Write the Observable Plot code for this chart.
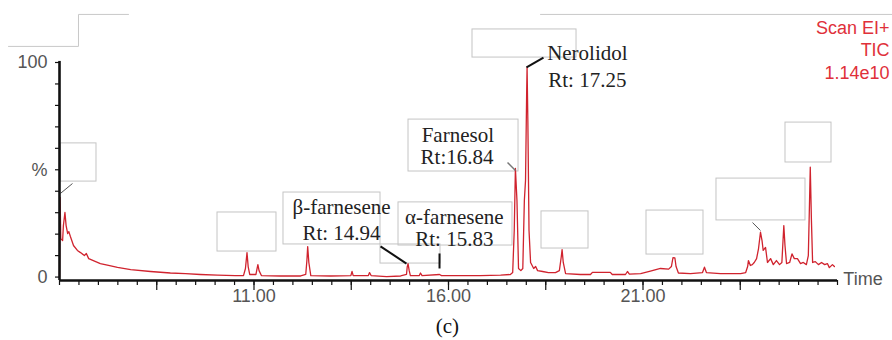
<!DOCTYPE html>
<html><head><meta charset="utf-8">
<script src="https://cdn.jsdelivr.net/npm/d3@7"></script>
<script src="https://cdn.jsdelivr.net/npm/@observablehq/plot@0.6"></script>
<style>body{margin:0;background:#fff} svg{display:block}</style>
</head><body><div id="chart"></div>
<script>
// Retention time (min) and relative abundance (%) of the TIC trace
const times = [
  6.00,6.015,6.033,6.08,6.10,6.14,6.17,6.21,6.24,6.28,
  6.36,6.46,6.54,6.64,6.69,6.75,6.93,7.05,7.26,7.49,
  7.83,8.34,8.85,9.24,9.62,10.06,10.52,10.73,10.78,10.82,
  10.85,10.89,11.05,11.08,11.10,11.13,11.19,11.68,12.20,12.33,
  12.36,12.38,12.41,12.46,12.97,13.49,13.52,13.55,13.94,13.97,
  14.01,14.41,14.77,14.92,14.94,14.96,14.99,15.02,15.25,15.28,
  15.32,15.77,15.82,16.31,16.82,17.34,17.59,17.65,17.69,17.72,
  17.76,17.80,17.86,17.91,17.95,17.98,18.01,18.02,18.04,18.07,
  18.11,18.19,18.24,18.29,18.42,18.57,18.75,18.85,18.90,18.92,
  18.95,19.01,19.39,19.65,19.70,20.16,20.21,20.55,20.60,20.65,
  20.94,21.19,21.45,21.66,21.73,21.77,21.82,21.85,21.91,22.22,
  22.53,22.58,22.63,22.99,23.51,23.64,23.69,23.71,23.76,23.81,
  23.86,23.92,23.97,24.02,24.06,24.09,24.15,24.20,24.28,24.35,
  24.43,24.51,24.57,24.62,24.65,24.69,24.77,24.83,24.89,24.97,
  25.05,25.12,25.20,25.25,25.28,25.30,25.33,25.36,25.43,25.51,
  25.59,25.67,25.74,25.79,25.87,25.92
];
const intensity = [
  0,37.1,17.9,17.0,24.0,30.1,24.0,20.3,21.2,18.9,
  14.7,12.4,11.4,10.0,11.0,8.6,7.2,6.3,5.4,4.5,
  3.5,2.6,1.9,1.6,1.2,0.9,0.7,0.7,4.0,11.4,
  4.9,1.2,1.2,4.0,5.8,3.0,0.7,0.5,0.5,1.2,
  7.7,14.2,6.8,0.7,0.5,0.7,2.6,0.7,0.7,2.1,
  0.7,0.2,0.5,1.2,4.9,6.3,3.0,0.7,0.7,1.9,
  0.7,1.2,0.7,0.7,0.7,0.9,1.2,2.1,21.7,50.6,
  35.7,4.0,3.0,4.0,35.7,45.0,86.9,97.8,73.0,21.7,
  6.8,4.0,4.9,3.0,2.6,2.1,2.1,3.0,9.6,12.8,
  6.8,1.6,1.2,1.2,2.2,2.2,1.2,1.2,2.6,1.4,
  1.6,2.8,4.0,3.7,4.9,9.0,8.9,4.9,1.9,1.6,
  2.1,4.6,2.1,1.6,1.6,2.1,4.9,7.7,5.4,5.8,
  6.8,8.6,13.3,20.9,17.0,12.4,13.8,6.8,8.6,5.8,
  7.7,5.8,6.8,24.0,14.7,6.3,6.8,10.8,8.6,8.6,
  6.3,6.8,5.8,10.0,34.3,51.2,26.3,6.8,7.2,5.8,
  6.8,5.8,6.3,4.4,5.8,4.9
];

// Axis ticks
const xMinorTicks = d3.range(6, 26.001, 0.5);
const xMajorTicks = [8.5, 11, 13.5, 16, 18.5, 21, 23.5];
const xLabelTicks = [11, 16, 21];
const xTickLabels = ["11.00", "16.00", "21.00"];
const yTicks = [0,10,20,30,40,50,60,70,80,90,100];
const yTickLabelValues = [0, 50, 100];
const yTickLabels = ["0", "%", "100"];

// Compound annotations (serif labels)
const labelText = ["β-farnesene","Rt: 14.94","α-farnesene","Rt: 15.83","Farnesol","Rt:16.84","Nerolidol","Rt: 17.25"];
const labelT = [13.25,13.25,16.15,16.15,16.24,16.22,19.57,19.57];
const labelV = [32.4,20.3,27.8,17.5,66.0,55.7,104.2,91.7];

// Leader lines
const leadT1 = [6.026,14.252,15.769,17.517,18.005,23.815];
const leadV1 = [39.0,14.3,11.0,53.4,97.7,25.4];
const leadT2 = [6.334,14.920,15.769,17.722,18.442,24.02];
const leadV2 = [43.6,6.3,4.0,49.7,102.3,21.7];
const leadColor = ["#555","#111","#111","#777","#111","#555"];
const leadWidth = [1,2,2,1.5,2,1];

// Empty label boxes (grey outlines)
const boxT1 = [6.026,10.062,18.391,21.090,22.889,24.663,16.617,14.972,11.758,14.715,14.252];
const boxT2 = [6.951,11.578,19.599,22.555,25.177,25.846,19.291,17.800,14.252,17.645,15.794];
const boxV1 = [44.5,11.9,13.3,10.5,26.4,53.4,102.3,49.2,15.2,14.7,6.3];
const boxV2 = [62.3,30.1,30.6,31.0,45.9,72.0,115.4,73.4,39.4,34.8,15.2];

// Frame lines at the top
const stepT = [4.689,6.488,6.488,7.774];
const stepV = [107.5,107.5,122.4,122.4];
const topT = [18.365,27.41];
const topV = [122.4,122.4];

// Instrument info (red)
const infoText = ["Scan EI+","TIC","1.14e10"];
const infoV = [116.0,105.6,94.9];

const trace = times.map((t, i) => ({t, v: intensity[i]}));

const chart = Plot.plot({
  width: 892,
  height: 340,
  marginLeft: 59,
  marginRight: 55,
  marginTop: 62,
  marginBottom: 60,
  style: {fontFamily: "'Liberation Sans', Arial, sans-serif", background: "#fff", overflow: "visible"},
  x: {domain: [6, 26], label: null},
  y: {domain: [-1.6, 100], label: null},
  marks: [
    Plot.line(stepT, {x: (d) => d, y: (d, i) => stepV[i], stroke: "#c8c8c8", strokeWidth: 1}),
    Plot.line(topT, {x: (d) => d, y: (d, i) => topV[i], stroke: "#c8c8c8", strokeWidth: 1}),
    Plot.rect(boxT1, {x1: (d) => d, x2: (d, i) => boxT2[i], y1: (d, i) => boxV1[i], y2: (d, i) => boxV2[i], fill: "none", stroke: "#c4c4c4", strokeWidth: 1}),
    Plot.line(trace, {x: "t", y: "v", stroke: "#d0232e", strokeWidth: 1.3, curve: "linear"}),
    Plot.link(leadT1, {x1: (d) => d, y1: (d, i) => leadV1[i], x2: (d, i) => leadT2[i], y2: (d, i) => leadV2[i], stroke: (d, i) => leadColor[i], strokeWidth: (d, i) => leadWidth[i]}),
    // axes
    Plot.axisX({ticks: xMinorTicks, tickSize: 5, tickFormat: () => "", label: null, stroke: "#111", strokeWidth: 1.2}),
    Plot.axisX({ticks: xMajorTicks, tickSize: 10, tickFormat: () => "", label: null, stroke: "#111", strokeWidth: 1.2}),
    Plot.axisX({ticks: xLabelTicks, tickSize: 0, tickPadding: 9, label: null, tickFormat: (d) => xTickLabels[xLabelTicks.indexOf(d)], fill: "#555", fontSize: 18}),
    Plot.axisY({ticks: yTicks, tickSize: 4, tickPadding: 8, label: null, tickFormat: (d) => { const k = yTickLabelValues.indexOf(d); return k >= 0 ? yTickLabels[k] : ""; }, stroke: "#111", fill: "#555", fontSize: 18, strokeWidth: 1.2}),
    Plot.ruleY([-1.6], {x1: 6, x2: 26, stroke: "#111", strokeWidth: 2.6}),
    Plot.ruleX([6], {y1: -1.6, y2: 100.5, stroke: "#111", strokeWidth: 2.6}),
    Plot.text(["Time"], {x: 26.15, y: -1.1, text: (d) => d, textAnchor: "start", fill: "#555", fontSize: 18}),
    Plot.text(infoText, {x: 27.34, y: (d, i) => infoV[i], text: (d) => d, textAnchor: "end", fill: "#e0303a", fontSize: 18}),
    Plot.text(labelText, {x: (d, i) => labelT[i], y: (d, i) => labelV[i], text: (d) => d, textAnchor: "middle", fontFamily: "'Liberation Serif', serif", fontSize: 21, fill: "#222"}),
    Plot.text(["(c)"], {x: 15.97, y: -23.0, text: (d) => d, fontFamily: "'Liberation Serif', serif", fontSize: 21, fill: "#111"})
  ]
});
document.getElementById("chart").appendChild(chart);
</script>
</body></html>
